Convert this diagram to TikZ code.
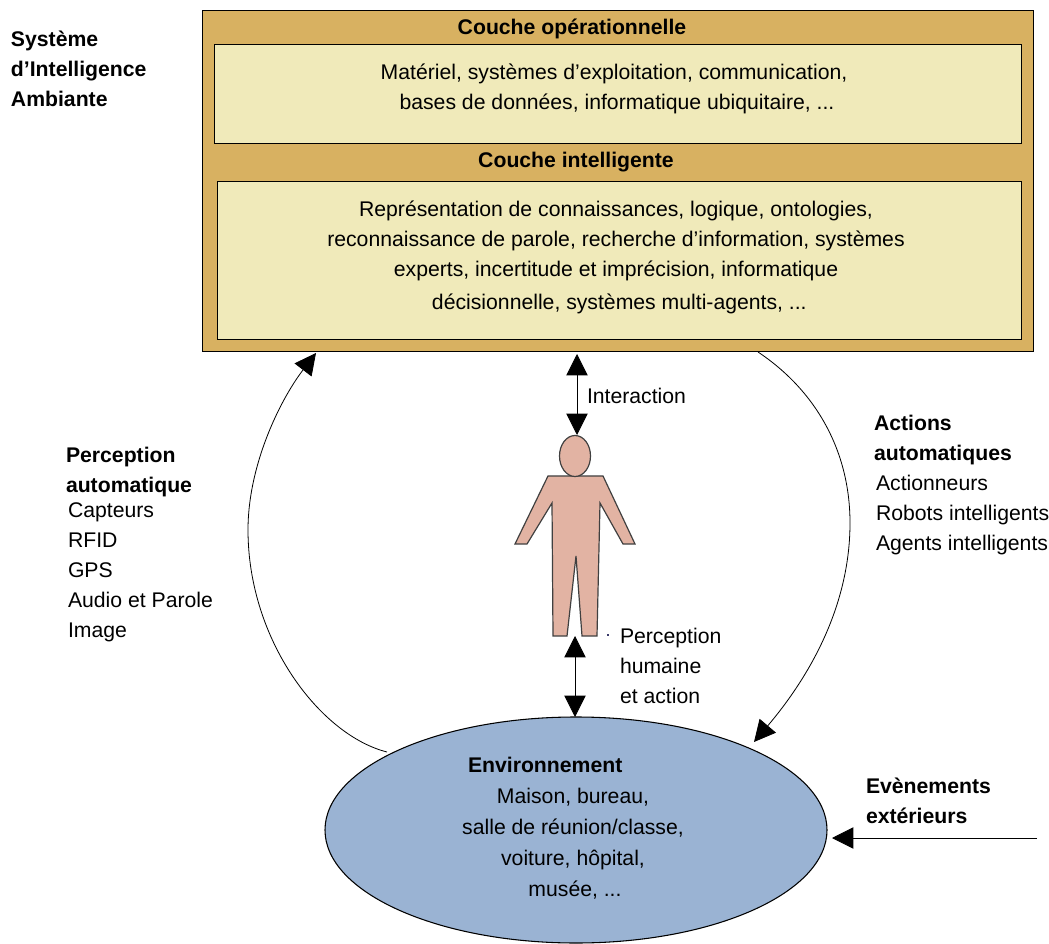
\documentclass[tikz,border=0pt]{standalone}
\usepackage{fontspec}
\setmainfont{Liberation Sans}
\usetikzlibrary{arrows.meta,shapes.geometric,calc}
\definecolor{outerc}{HTML}{D8B161}
\definecolor{innerc}{HTML}{F0EABA}
\definecolor{skinc}{HTML}{E2B3A3}
\definecolor{envc}{HTML}{9AB3D3}
\definecolor{dotc}{HTML}{3A3A6A}
\tikzset{
  pxbox/.style={draw=black,inner sep=0,outer sep=0},
  txt/.style={font=\fontsize{15.9pt}{22.5pt}\selectfont,inner sep=0,outer sep=0},
  txtb/.style={font=\fontsize{15.9pt}{22.5pt}\selectfont\bfseries,inner sep=0,outer sep=0},
  big/.style={line width=0.6pt,{Triangle[length=16pt,width=16pt]}-{Triangle[length=16pt,width=16pt]}},
  one/.style={line width=0.6pt,-{Triangle[length=16pt,width=16pt]}}
}
\begin{document}
\begin{tikzpicture}[x=0.75pt,y=-0.75pt]
\useasboundingbox (0,0) rectangle (1049,944);
% boxes
\node[pxbox,line width=0.7pt,fill=outerc,minimum width=831*0.75pt,minimum height=341*0.75pt,anchor=north west] (outer) at (202,10) {};
\node[pxbox,line width=0.6pt,fill=innerc,minimum width=807*0.75pt,minimum height=99*0.75pt,anchor=north west] (op) at (214,44) {};
\node[pxbox,line width=0.6pt,fill=innerc,minimum width=804*0.75pt,minimum height=158*0.75pt,anchor=north west] (intel) at (217,181) {};
\node[txtb] (t1) at (572,28.5) {Couche opérationnelle};
\node[txtb] (t2) at (576,162) {Couche intelligente};
\node[txt,align=center,anchor=north] (t3) at (614,64) {Matériel, systèmes d’exploitation, communication,\\\hspace*{4.5pt}bases de données, informatique ubiquitaire, ...};
\node[txt,align=center,anchor=north] (t4) at (616,201) {Représentation de connaissances, logique, ontologies,\\reconnaissance de parole, recherche d’information, systèmes\\experts, incertitude et imprécision, informatique\\[2.2pt]\hspace*{5pt}décisionnelle, systèmes multi-agents, ...};
\node[txtb,align=left,anchor=north west] (sys) at (11,31) {Système\\d’Intelligence\\Ambiante};
% person
\fill[skinc,draw=black!75,line width=0.9pt,line join=miter] (548,476) -- (603,476) -- (635,544) -- (623,544) -- (600,503) -- (597,636) -- (582,636) -- (576,556) -- (567,636) -- (553,636) -- (552,503) -- (527,544) -- (515,544) -- cycle;
\node[ellipse,draw=black!75,fill=skinc,line width=0.9pt,minimum width=31*0.75pt,minimum height=41*0.75pt,inner sep=0,outer sep=0] (head) at (575,456) {};
% environment
\node[ellipse,draw=black,fill=envc,line width=0.8pt,minimum width=502*0.75pt,minimum height=226*0.75pt,inner sep=0,outer sep=0] (env) at (576,830) {};
\node[txtb,anchor=north west] (t5) at (468,757) {Environnement};
\node[txt,align=center,anchor=north] (t6) at (573,788) {Maison, bureau,\\[0.75pt]salle de réunion/classe,\\[0.75pt]voiture, hôpital,\\[0.75pt]\hspace*{3pt}musée, ...};
% connectors
\coordinate (lefta) at (387,752);
\coordinate (leftm) at (248,530);
\coordinate (leftb) at (316,353);
\coordinate (righta) at (758,352);
\coordinate (rightm) at (850,523);
\coordinate (rightb) at (754,742);
\coordinate (ext) at (1037,838);
\coordinate (exte) at (832,838);
\coordinate (ia) at (577,354);
\coordinate (ib) at (577,435);
\coordinate (pa) at (575,636);
\coordinate (pb) at (575,717);
\draw[big] (ia) -- (ib);
\draw[big] (pa) -- (pb);
\draw[one] (lefta) .. controls (320,735) and (248,640) .. (leftm) .. controls (248,465) and (280,400) .. (leftb);
\draw[one] (righta) .. controls (815,390) and (850,450) .. (rightm) .. controls (850,600) and (815,670) .. (rightb);
\draw[one] (ext) -- (exte);
% labels
\fill[dotc] (607,634) rectangle (609,636);
\node[txt,anchor=north west] (l1) at (587,388) {Interaction};
\node[txt,align=left,anchor=north west] (l2) at (620,628) {Perception\\humaine\\et action};
\node[txtb,align=left,anchor=north west] (l3) at (66,447) {Perception\\automatique};
\node[txt,align=left,anchor=north west] (l4) at (68,503) {Capteurs\\RFID\\GPS\\Audio et Parole\\Image};
\node[txtb,align=left,anchor=north west] (l5) at (874,415) {Actions\\automatiques};
\node[txt,align=left,anchor=north west] (l6) at (876,475) {Actionneurs\\Robots intelligents\\Agents intelligents};
\node[txtb,align=left,anchor=north west] (l7) at (866,778) {Evènements\\extérieurs};
\end{tikzpicture}
\end{document}
